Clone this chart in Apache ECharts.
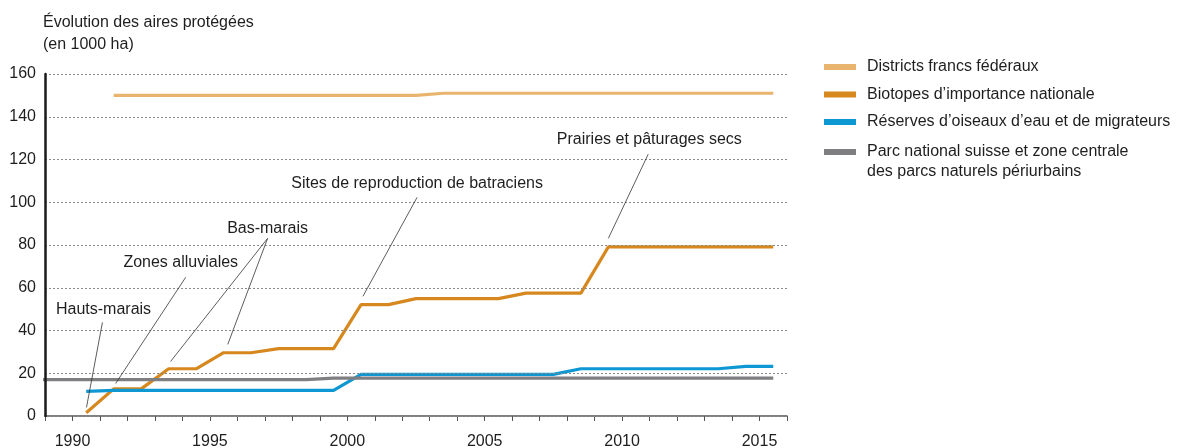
<!DOCTYPE html>
<html>
<head>
<meta charset="utf-8">
<script src="https://cdn.jsdelivr.net/npm/echarts@6/dist/echarts.min.js"></script>
<style>
    html, body { margin: 0; padding: 0; background: #fff; }
    #chart { width: 1179px; height: 448px; }
</style>
</head>
<body>
<div id="chart"></div>
<script>
    // années (valeurs au milieu de l'année)
    var years = [1988, 1989, 1990, 1991, 1992, 1993, 1994, 1995, 1996, 1997, 1998, 1999, 2000, 2001,
        2002, 2003, 2004, 2005, 2006, 2007, 2008, 2009, 2010, 2011, 2012, 2013, 2014, 2015];

    var districts = [null, null, null, 150, 150, 150, 150, 150, 150, 150, 150, 150, 150, 150,
        150, 151, 151, 151, 151, 151, 151, 151, 151, 151, 151, 151, 151, 151];
    var biotopes = [null, null, 1.5, 12.7, 12.7, 22.1, 22.1, 29.6, 29.6, 31.5, 31.5, 31.5, 52.1, 52.1,
        54.9, 54.9, 54.9, 54.9, 57.5, 57.5, 57.5, 79.1, 79.1, 79.1, 79.1, 79.1, 79.1, 79.1];
    var reserves = [null, null, 11.5, 12, 12, 12, 12, 12, 12, 12, 12, 12, 19.5, 19.5,
        19.5, 19.5, 19.5, 19.5, 19.5, 19.5, 22.1, 22.1, 22.1, 22.1, 22.1, 22.1, 23.2, 23.2];
    var parc = [17, 17, 17, 17, 17, 17, 17, 17, 17, 17, 17, 17.7, 17.7, 17.7,
        17.7, 17.7, 17.7, 17.7, 17.7, 17.7, 17.7, 17.7, 17.7, 17.7, 17.7, 17.7, 17.7, 17.7];

    var seriesNames = ['Districts francs fédéraux', 'Biotopes d\u2019importance nationale',
        'Réserves d\u2019oiseaux d\u2019eau et de migrateurs',
        'Parc national suisse et zone centrale des parcs naturels périurbains'];
    var parcLegend = 'Parc national suisse et zone centrale\ndes parcs naturels périurbains';

    // annotations (coordonnées en unités des axes)
    var annoLabels = ['Hauts-marais', 'Zones alluviales', 'Bas-marais',
        'Sites de reproduction de batraciens', 'Prairies et pâturages secs'];
    var annoAt = [[1991.13, 49.9], [1993.94, 71.9], [1997.1, 87.8], [2002.54, 108.9], [2010.99, 129.5]];
    var annoLines = [
        [[1991.09, 43.8], [1990.51, 4.0]],
        [[1994.12, 64.9], [1991.57, 15.2]],
        [[1997.1, 83.1], [1993.57, 25.5]],
        [[1997.1, 83.1], [1995.65, 33.5]],
        [[2002.54, 102.3], [2000.57, 56.0]],
        [[2010.95, 122.5], [2009.5, 83.1]]
    ];

    var colors = ['#e8b46e', '#d6881e', '#0d98d3', '#7f7f82'];
    var font = 'Liberation Sans, Arial, sans-serif';
    var ink = '#1e1e1e';

    function pairs(vals) {
        return years.map(function (y, i) { return [y + 0.5, vals[i]]; });
    }

    function lineSeries(name, vals, color) {
        return {
            name: name,
            type: 'line',
            data: pairs(vals),
            showSymbol: false,
            connectNulls: false,
            itemStyle: { color: color },
            lineStyle: { color: color, width: 3.2 },
            emphasis: { disabled: true },
            z: 3
        };
    }

    var chart = echarts.init(document.getElementById('chart'));
    chart.setOption({
        animation: false,
        textStyle: { fontFamily: font },
        title: {
            text: 'Évolution des aires protégées\n(en 1000 ha)',
            left: 43,
            top: 12,
            padding: 0,
            textStyle: { fontSize: 16, fontWeight: 'normal', color: ink, lineHeight: 22, fontFamily: font }
        },
        legend: [{
            orient: 'vertical',
            left: 824,
            top: 57,
            padding: 0,
            icon: 'rect',
            itemWidth: 32,
            itemHeight: 6,
            itemGap: 7.5,
            selectedMode: false,
            data: seriesNames.slice(0, 3),
            textStyle: { fontSize: 16, color: ink, lineHeight: 20, padding: [0, 0, 0, 6], fontFamily: font }
        }, {
            orient: 'vertical',
            left: 824,
            top: 122,
            padding: 0,
            icon: 'rect',
            itemWidth: 32,
            itemHeight: 6,
            selectedMode: false,
            data: [seriesNames[3]],
            formatter: function () { return '\n' + parcLegend; },
            textStyle: { fontSize: 16, color: ink, lineHeight: 20, padding: [0, 0, 0, 6], fontFamily: font }
        }],
        grid: { left: 45, right: 392, top: 74, bottom: 32, outerBoundsMode: 'none', containLabel: false },
        xAxis: {
            type: 'value',
            min: 1989,
            max: 2016,
            interval: 1,
            axisLine: { lineStyle: { color: '#555', width: 1.5 } },
            axisTick: { show: true, length: 5, lineStyle: { color: '#555', width: 1 } },
            axisLabel: {
                fontSize: 16,
                color: ink,
                margin: 18,
                formatter: function (v) { return v % 5 === 0 ? String(v) : ''; }
            },
            splitLine: { show: false }
        },
        yAxis: {
            type: 'value',
            min: 0,
            max: 160,
            interval: 20,
            axisLine: { show: true, lineStyle: { color: '#1a1a1a', width: 2.5 } },
            axisTick: { show: false },
            axisLabel: { fontSize: 16, color: ink, margin: 9 },
            splitLine: { lineStyle: { color: '#8a8a8a', width: 1, type: [2, 2] } },
            z: 5
        },
        series: [
            lineSeries(seriesNames[0], districts, colors[0]),
            lineSeries(seriesNames[1], biotopes, colors[1]),
            lineSeries(seriesNames[2], reserves, colors[2]),
            lineSeries(seriesNames[3], parc, colors[3])
        ]
    });

    // textes et traits d'annotation placés via les échelles du graphique
    var toPx = function (p) { return chart.convertToPixel({ gridIndex: 0 }, p); };
    var graphics = [];
    annoLines.forEach(function (seg) {
        var a = toPx(seg[0]), b = toPx(seg[1]);
        graphics.push({
            type: 'line',
            shape: { x1: a[0], y1: a[1], x2: b[0], y2: b[1] },
            style: { stroke: '#333', lineWidth: 0.8 },
            z: 10
        });
    });
    annoLabels.forEach(function (txt, i) {
        var p = toPx(annoAt[i]);
        graphics.push({
            type: 'text',
            x: p[0],
            y: p[1],
            style: { text: txt, fontSize: 16, fontFamily: font, fill: ink, align: 'center', verticalAlign: 'middle' },
            z: 10
        });
    });
    chart.setOption({ graphic: graphics });
</script>
</body>
</html>
